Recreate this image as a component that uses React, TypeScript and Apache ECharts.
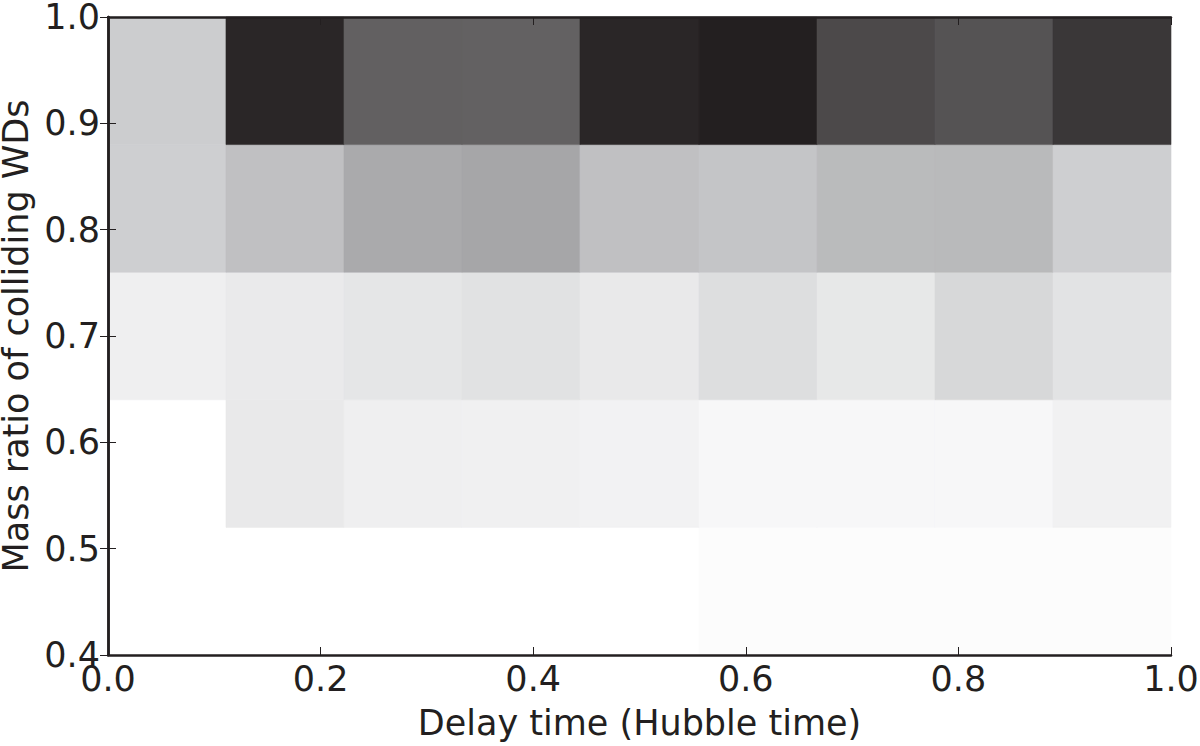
import React, { useEffect, useRef } from "react";
import * as echarts from "echarts";

// Bin edges of the 2D histogram
const xEdges = [0.0, 0.111, 0.222, 0.333, 0.444, 0.556, 0.667, 0.778, 0.889, 1.0];
const yEdges = [0.4, 0.52, 0.64, 0.76, 0.88, 1.0];

// Relative intensity per bin (0 = white, 1 = darkest), one array per row, bottom to top
const row052 = [0.0, 0.0, 0.0, 0.0, 0.0, 0.029, 0.029, 0.029, 0.029];
const row064 = [0.0, 0.216, 0.157, 0.147, 0.127, 0.078, 0.078, 0.078, 0.137];
const row076 = [0.157, 0.206, 0.255, 0.294, 0.216, 0.333, 0.235, 0.392, 0.284];
const row088 = [0.48, 0.536, 0.601, 0.612, 0.536, 0.524, 0.553, 0.556, 0.48];
const row100 = [0.5, 0.979, 0.814, 0.811, 0.979, 1.0, 0.879, 0.852, 0.932];
const rows = [row052, row064, row076, row088, row100];

const INK = "#231f20";
const FONT = "DejaVu Sans";

export default function App() {
  const ref = useRef<HTMLDivElement>(null);
  useEffect(() => {
    if (!ref.current) return;
    const chart = echarts.init(ref.current, undefined, { renderer: "svg" });
    const data: number[][] = [];
    rows.forEach((r, j) => {
      r.forEach((v, i) => {
        data.push([xEdges[i], xEdges[i + 1], yEdges[j], yEdges[j + 1], v]);
      });
    });
    const tickStyle = { show: true, inside: true, length: 8, lineStyle: { color: INK, width: 1 } };
    const lineStyle = { show: true, lineStyle: { color: INK, width: 2.5 } };
    const labelStyle = { color: INK, fontSize: 35, fontFamily: FONT };
    chart.setOption({
      animation: false,
      backgroundColor: "#ffffff",
      grid: { left: 108, right: 29, top: 17, bottom: 91, containLabel: false, outerBoundsMode: "none" },
      visualMap: {
        show: false,
        type: "continuous",
        dimension: 4,
        min: 0,
        max: 1,
        inRange: { color: ["#ffffff", "#cccdcf", INK] },
      },
      xAxis: [
        {
          type: "value",
          min: 0,
          max: 1,
          interval: 0.2,
          position: "bottom",
          z: 10,
          axisLine: lineStyle,
          axisTick: tickStyle,
          splitLine: { show: false },
          axisLabel: { ...labelStyle, margin: 6, formatter: (v: number) => v.toFixed(1) },
          name: "Delay time (Hubble time)",
          nameLocation: "middle",
          nameGap: 50,
          nameTextStyle: { color: INK, fontSize: 35, fontFamily: FONT },
        },
        {
          type: "value",
          min: 0,
          max: 1,
          interval: 0.2,
          position: "top",
          z: 10,
          axisLine: lineStyle,
          axisTick: tickStyle,
          splitLine: { show: false },
          axisLabel: { show: false },
        },
      ],
      yAxis: [
        {
          type: "value",
          min: 0.4,
          max: 1.0,
          interval: 0.1,
          position: "left",
          z: 10,
          axisLine: lineStyle,
          axisTick: tickStyle,
          splitLine: { show: false },
          axisLabel: { ...labelStyle, margin: 8, formatter: (v: number) => v.toFixed(1) },
          name: "Mass ratio of colliding WDs",
          nameLocation: "middle",
          nameGap: 70,
          nameTextStyle: { color: INK, fontSize: 35, fontFamily: FONT },
        },
        {
          type: "value",
          min: 0.4,
          max: 1.0,
          interval: 0.1,
          position: "right",
          z: 10,
          axisLine: lineStyle,
          axisTick: tickStyle,
          splitLine: { show: false },
          axisLabel: { show: false },
        },
      ],
      series: [
        {
          type: "custom",
          xAxisIndex: 0,
          yAxisIndex: 0,
          encode: { x: [0, 1], y: [2, 3] },
          data,
          renderItem: (params: any, api: any) => {
            const p0 = api.coord([api.value(0), api.value(3)]);
            const p1 = api.coord([api.value(1), api.value(2)]);
            const color = api.visual("color");
            return {
              type: "rect",
              shape: { x: p0[0], y: p0[1], width: p1[0] - p0[0], height: p1[1] - p0[1] },
              style: { fill: color, stroke: color, lineWidth: 0.6 },
            };
          },
        },
      ],
    });
    return () => chart.dispose();
  }, []);
  return (
    <div
      ref={ref}
      style={{ position: "fixed", left: 0, top: 0, width: 1200, height: 746, background: "#fff" }}
    />
  );
}
